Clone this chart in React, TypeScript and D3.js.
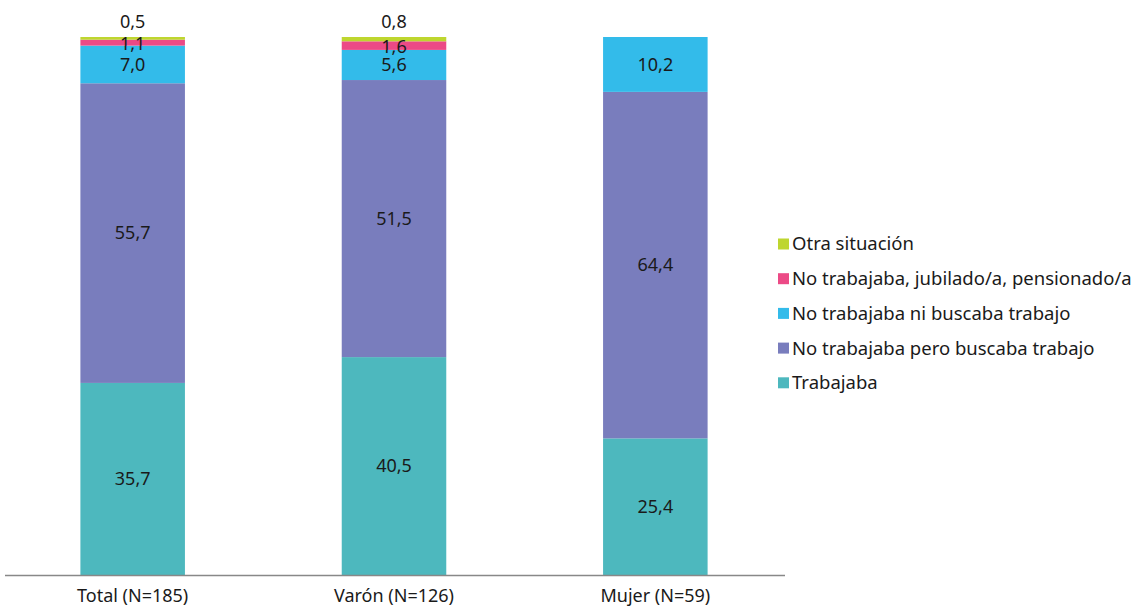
import React from 'react';
import * as d3 from 'd3';

const categories = ['Total (N=185)', 'Varón (N=126)', 'Mujer (N=59)'];
const seriesNames = [
    'Trabajaba',
    'No trabajaba pero buscaba trabajo',
    'No trabajaba ni buscaba trabajo',
    'No trabajaba, jubilado/a, pensionado/a',
    'Otra situación'
];
const seriesColors = ['#4db8be', '#797dbd', '#33bbea', '#ec4a86', '#bed62f'];

const trabajaba = [35.7, 40.5, 25.4];
const buscaba = [55.7, 51.5, 64.4];
const niBuscaba = [7.0, 5.6, 10.2];
const jubilado = [1.1, 1.6, 0];
const otra = [0.5, 0.8, 0];

const width = 1137, height = 608;
const font = '"Noto Sans", sans-serif';

export default function App() {
    const rows = categories.map((c, i) => ({
        cat: c,
        s0: trabajaba[i], s1: buscaba[i], s2: niBuscaba[i], s3: jubilado[i], s4: otra[i]
    }));
    const keys = ['s0', 's1', 's2', 's3', 's4'];
    const stacked = d3.stack().keys(keys)(rows as any);

    const x = d3.scaleBand().domain(categories).range([2, 786]).paddingInner(0.6).paddingOuter(0.3);
    const y = d3.scaleLinear().domain([0, 100]).range([575, 37]);
    const fmt = (v: number) => v.toFixed(1).replace('.', ',');

    return (
        <svg width={width} height={height} style={{ position: 'absolute', left: 0, top: 0 }}>
            {stacked.map((layer, li) => (
                <g key={li} fill={seriesColors[li]}>
                    {layer.map((d: any, ci) => {
                        if (d[1] - d[0] <= 0) return null;
                        return <rect key={ci} x={x(categories[ci])} y={y(d[1])}
                            width={x.bandwidth()} height={y(d[0]) - y(d[1])} />;
                    })}
                </g>
            ))}
            {stacked.map((layer, li) => (
                <g key={'l' + li} fontFamily={font} fontSize={18} fill="#1a1a1a" textAnchor="middle">
                    {layer.map((d: any, ci) => {
                        const v = d[1] - d[0];
                        if (v <= 0) return null;
                        const cx = (x(categories[ci]) as number) + x.bandwidth() / 2;
                        // smallest segment label sits above the bar
                        const cy = li === 4 ? y(100) - 15 : (y(d[0]) + y(d[1])) / 2 + (li === 3 ? 1 : 0);
                        return <text key={ci} x={cx} y={cy} dy="0.35em">{fmt(v)}</text>;
                    })}
                </g>
            ))}
            <line x1={5} x2={785} y1={y(0) + 0.5} y2={y(0) + 0.5} stroke="#888" strokeWidth={1.5} />
            {categories.map(c => (
                <text key={c} x={(x(c) as number) + x.bandwidth() / 2} y={596} dy="0.35em"
                    textAnchor="middle" fontFamily={font} fontSize={18} fill="#1a1a1a">{c}</text>
            ))}
            {seriesNames.slice().reverse().map((s, i) => (
                <g key={s} transform={`translate(778,${244 + i * 34.7})`}>
                    <rect x={0} y={-5.5} width={11} height={11} fill={seriesColors[4 - i]} />
                    <text x={14} dy="0.35em" fontFamily={font} fontSize={18.5} fill="#1a1a1a">{s}</text>
                </g>
            ))}
        </svg>
    );
}
